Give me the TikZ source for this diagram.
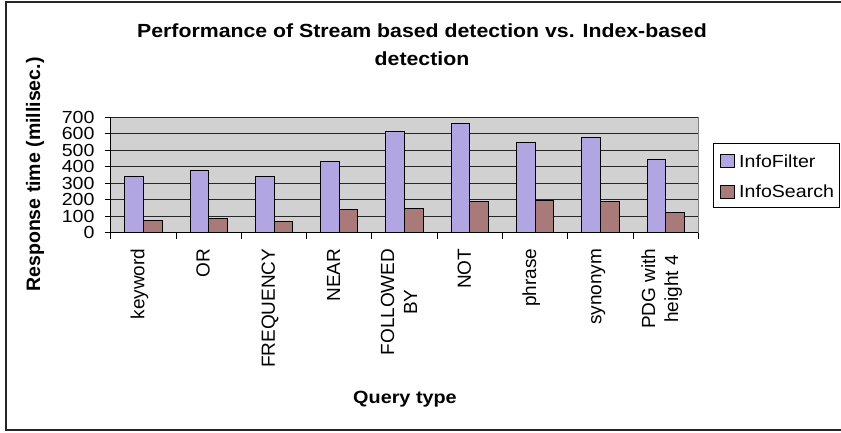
\documentclass[tikz,border=0pt]{standalone}
\usepackage{fontspec}
\setmainfont{Liberation Sans}[FakeStretch=1.12]
\newfontfamily\uprightfont{Liberation Sans}
\usepackage{xcolor}
\usepackage{tikz}
\definecolor{filtercol}{RGB}{178,166,226}
\definecolor{searchcol}{RGB}{168,122,122}
\definecolor{plotgray}{RGB}{209,209,209}
\tikzset{filter bar/.style={draw=black,line width=0.8pt,fill=filtercol},
         search bar/.style={draw=black,line width=0.8pt,fill=searchcol},
         grid line/.style={draw=black!85,line width=0.8pt},
         axis line/.style={draw=black,line width=0.8pt},
         tick label/.style={anchor=east,inner sep=0pt,xshift=-16pt,font=\fontsize{17.5}{20}\selectfont},
         query label/.style={rotate=90,anchor=east,inner sep=0pt,align=center,font=\uprightfont\fontsize{19}{23}\selectfont},
         chart title/.style={anchor=base,inner sep=0pt,align=center,font=\bfseries\fontsize{19}{28.4}\selectfont},
         axis title/.style={anchor=base,inner sep=0pt,font=\bfseries\fontsize{17.7}{21}\selectfont},
         swatch/.style={draw=black,line width=0.8pt,minimum size=13.3pt,inner sep=0pt},
         legend text/.style={anchor=west,inner sep=0pt,font=\fontsize{17.5}{20}\selectfont},
            }

\begin{document}
\begin{tikzpicture}[x=1pt,y=-1pt]
\useasboundingbox (0,0) rectangle (841,432);
\draw[draw=black!85,line width=1.5pt] (6,2) rectangle (870,430);

\node[chart title] (title) at (422,65.7) {Performance of Stream based detection vs. Index-based\\detection};

\coordinate (O) at (110.7,232.7);
\begin{scope}[shift={(O)},x=65.29pt,y=0.1649pt]
	\fill[plotgray] (0,0) rectangle (9,700);
	\draw[grid line] (0,100) -- (9,100);
	\draw[grid line] (0,200) -- (9,200);
	\draw[grid line] (0,300) -- (9,300);
	\draw[grid line] (0,400) -- (9,400);
	\draw[grid line] (0,500) -- (9,500);
	\draw[grid line] (0,600) -- (9,600);
	\draw[grid line] (0,700) -- (9,700);
	\draw[draw=gray,line width=0.8pt] (9,700) -- (9,0);

	\draw[filter bar] (0.2143,0) rectangle (0.5,340);
	\draw[search bar] (0.5,0) rectangle (0.7857,75);
	\draw[filter bar] (1.2143,0) rectangle (1.5,380);
	\draw[search bar] (1.5,0) rectangle (1.7857,85);
	\draw[filter bar] (2.2143,0) rectangle (2.5,340);
	\draw[search bar] (2.5,0) rectangle (2.7857,68);
	\draw[filter bar] (3.2143,0) rectangle (3.5,435);
	\draw[search bar] (3.5,0) rectangle (3.7857,140);
	\draw[filter bar] (4.2143,0) rectangle (4.5,617);
	\draw[search bar] (4.5,0) rectangle (4.7857,148);
	\draw[filter bar] (5.2143,0) rectangle (5.5,660);
	\draw[search bar] (5.5,0) rectangle (5.7857,190);
	\draw[filter bar] (6.2143,0) rectangle (6.5,545);
	\draw[search bar] (6.5,0) rectangle (6.7857,198);
	\draw[filter bar] (7.2143,0) rectangle (7.5,575);
	\draw[search bar] (7.5,0) rectangle (7.7857,190);
	\draw[filter bar] (8.2143,0) rectangle (8.5,445);
	\draw[search bar] (8.5,0) rectangle (8.7857,123);

	% axes and ticks
	\draw[axis line] (0,700) -- (0,0) -- (9,0);
	\draw[axis line] (0,0) -- ++(-6pt,0) (0,100) -- ++(-6pt,0) (0,200) -- ++(-6pt,0)
		(0,300) -- ++(-6pt,0) (0,400) -- ++(-6pt,0) (0,500) -- ++(-6pt,0)
		(0,600) -- ++(-6pt,0) (0,700) -- ++(-6pt,0);
	\draw[axis line] (0,0) -- ++(0,-6pt) (1,0) -- ++(0,-6pt) (2,0) -- ++(0,-6pt)
		(3,0) -- ++(0,-6pt) (4,0) -- ++(0,-6pt) (5,0) -- ++(0,-6pt)
		(6,0) -- ++(0,-6pt) (7,0) -- ++(0,-6pt) (8,0) -- ++(0,-6pt) (9,0) -- ++(0,-6pt);

	\node[tick label] (v0) at (0,0) {0};
	\node[tick label] (v100) at (0,100) {100};
	\node[tick label] (v200) at (0,200) {200};
	\node[tick label] (v300) at (0,300) {300};
	\node[tick label] (v400) at (0,400) {400};
	\node[tick label] (v500) at (0,500) {500};
	\node[tick label] (v600) at (0,600) {600};
	\node[tick label] (v700) at (0,700) {700};
\end{scope}

% query types
\node[query label] (keyword) at (139.7,248.5) {\strut keyword};
\node[query label] (or) at (205.0,248.5) {\strut OR};
\node[query label] (frequency) at (270.3,248.5) {\strut FREQUENCY};
\node[query label] (near) at (335.6,248.5) {\strut NEAR};
\node[query label] (followed) at (400.9,248.5) {\strut FOLLOWED\\\strut BY};
\node[query label] (not) at (466.2,248.5) {\strut NOT};
\node[query label] (phrase) at (531.5,248.5) {\strut phrase};
\node[query label] (synonym) at (596.8,248.5) {\strut synonym};
\node[query label] (pdg) at (662.1,248.5) {\strut PDG with\\\strut height 4};

\node[axis title] (xlab) at (405,403.3) {Query type};
\node[axis title,rotate=90,font=\uprightfont\bfseries\fontsize{19.5}{23}\selectfont] (ylab) at (40,174.5) {Response time (millisec.)};

% legend
\node[draw=black,line width=0.8pt,fill=white,minimum width=126pt,minimum height=64pt,inner sep=0pt] (legend) at (776.3,175.3) {};
\node[swatch,fill=filtercol] (swfilter) at (727.3,161) {};
\node[swatch,fill=searchcol] (swsearch) at (727.3,191.7) {};
\node[legend text] (infofilter) at (739,161) {InfoFilter};
\node[legend text] (infosearch) at (739,191.7) {InfoSearch};
\end{tikzpicture}
\end{document}
